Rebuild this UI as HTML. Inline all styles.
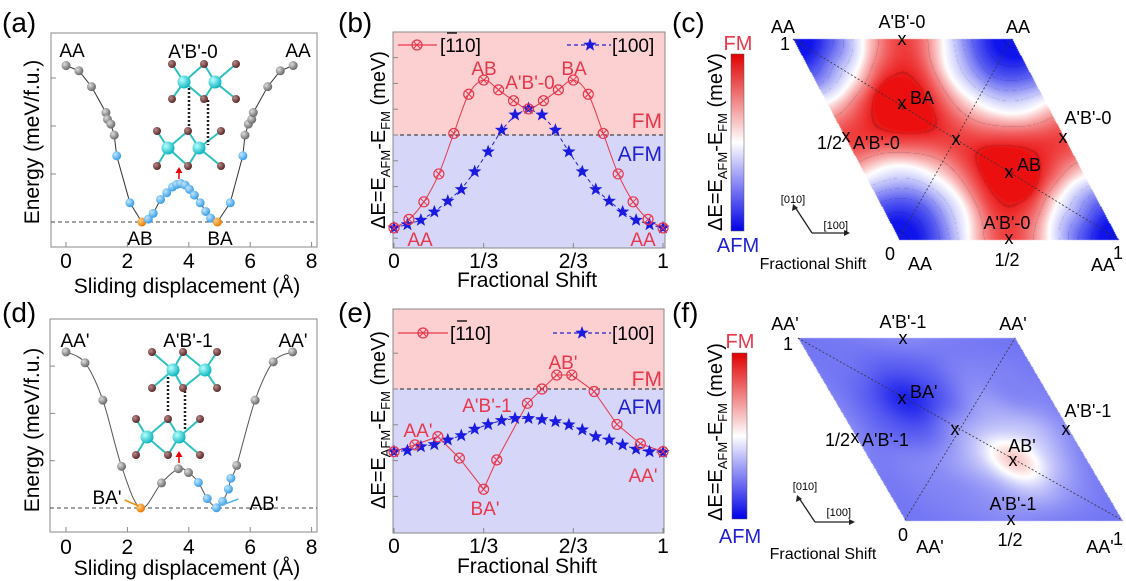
<!DOCTYPE html>
<html><head><meta charset="utf-8">
<style>
html,body{margin:0;padding:0;background:#fff;}
#wrap{position:relative;width:1126px;height:581px;overflow:hidden;}
canvas{position:absolute;left:0;top:0;}
svg{position:absolute;left:0;top:0;}
text{font-family:"Liberation Sans",sans-serif;}
</style></head>
<body>
<div id="wrap">
<canvas id="hm" width="1126" height="581"></canvas>
<svg id="fig" width="1126" height="581" viewBox="0 0 1126 581" xmlns="http://www.w3.org/2000/svg">
<defs>
<radialGradient id="gGray" cx="35%" cy="35%" r="65%"><stop offset="0" stop-color="#ddd"/><stop offset="1" stop-color="#6a6a6a"/></radialGradient>
<radialGradient id="gBlue" cx="35%" cy="35%" r="65%"><stop offset="0" stop-color="#bfe6ff"/><stop offset="1" stop-color="#3a9ee6"/></radialGradient>
<radialGradient id="gOr" cx="35%" cy="35%" r="65%"><stop offset="0" stop-color="#ffd08a"/><stop offset="1" stop-color="#e87a00"/></radialGradient>
<radialGradient id="gTeal" cx="35%" cy="35%" r="65%"><stop offset="0" stop-color="#b8ffff"/><stop offset="1" stop-color="#10b8c0"/></radialGradient>
<radialGradient id="gBr" cx="35%" cy="35%" r="65%"><stop offset="0" stop-color="#b88a8a"/><stop offset="1" stop-color="#5a2a2a"/></radialGradient>
<linearGradient id="cbar" x1="0" y1="0" x2="0" y2="1"><stop offset="0" stop-color="#e00000"/><stop offset="0.5" stop-color="#ffffff"/><stop offset="1" stop-color="#0000e8"/></linearGradient>
</defs>

<!-- panel labels -->
<text x="2" y="32" font-size="28">(a)</text>
<text x="338" y="32" font-size="28">(b)</text>
<text x="672" y="32" font-size="28">(c)</text>
<text x="2" y="322" font-size="28">(d)</text>
<text x="338" y="322" font-size="28">(e)</text>
<text x="672" y="322" font-size="28">(f)</text>

<!-- panel a frame -->
<g>
<rect x="51" y="33" width="266" height="214" fill="none" stroke="#888" stroke-width="1"/>
<line x1="51" y1="222" x2="317" y2="222" stroke="#444" stroke-dasharray="4,3"/>
<text transform="translate(39,142) rotate(-90)" text-anchor="middle" font-size="21">Energy (meV/f.u.)</text>
<text x="187" y="293" text-anchor="middle" font-size="21">Sliding displacement (Å)</text>
<text x="72" y="57" text-anchor="middle" font-size="19">AA</text>
<text x="298" y="57" text-anchor="middle" font-size="19">AA</text>
<text x="193" y="58" text-anchor="middle" font-size="19">A'B'-0</text>
<text x="140" y="245" text-anchor="middle" font-size="19">AB</text>
<text x="220" y="245" text-anchor="middle" font-size="19">BA</text>
</g>
<g id="insetA">
<g stroke="#2cc0c0" stroke-width="2">
<line x1="184" y1="82" x2="172" y2="64"/><line x1="184" y1="82" x2="204" y2="64"/><line x1="184" y1="82" x2="172" y2="99"/><line x1="184" y1="82" x2="204" y2="99"/>
<line x1="215" y1="82" x2="204" y2="64"/><line x1="215" y1="82" x2="236" y2="64"/><line x1="215" y1="82" x2="204" y2="99"/><line x1="215" y1="82" x2="236" y2="99"/>
<line x1="168" y1="148" x2="157" y2="131"/><line x1="168" y1="148" x2="188" y2="131"/><line x1="168" y1="148" x2="157" y2="166"/><line x1="168" y1="148" x2="188" y2="166"/>
<line x1="199" y1="148" x2="188" y2="131"/><line x1="199" y1="148" x2="221" y2="131"/><line x1="199" y1="148" x2="188" y2="166"/><line x1="199" y1="148" x2="221" y2="166"/>
</g>
<line x1="189" y1="88" x2="189" y2="128" stroke="#222" stroke-width="2.5" stroke-dasharray="2,2"/>
<line x1="208" y1="100" x2="208" y2="145" stroke="#222" stroke-width="2.5" stroke-dasharray="2,2"/>
<g fill="url(#gBr)"><circle cx="172" cy="64" r="4"/><circle cx="204" cy="64" r="4"/><circle cx="236" cy="64" r="4"/><circle cx="172" cy="99" r="4"/><circle cx="204" cy="99" r="4"/><circle cx="236" cy="99" r="4"/>
<circle cx="157" cy="131" r="4"/><circle cx="188" cy="131" r="4"/><circle cx="221" cy="131" r="4"/><circle cx="157" cy="166" r="4"/><circle cx="188" cy="166" r="4"/><circle cx="221" cy="166" r="4"/></g>
<g fill="url(#gTeal)"><circle cx="184" cy="82" r="6.5"/><circle cx="215" cy="82" r="6.5"/><circle cx="168" cy="148" r="6.5"/><circle cx="199" cy="148" r="6.5"/></g>
<line x1="179" y1="179" x2="179" y2="172" stroke="#e00" stroke-width="1.5"/><polygon points="175.5,173 182.5,173 179,167" fill="#e00"/>
</g>

<!-- panel d frame -->
<g>
<rect x="50" y="319" width="267" height="213" fill="none" stroke="#888" stroke-width="1"/>
<line x1="50" y1="508" x2="317" y2="508" stroke="#444" stroke-dasharray="4,3"/>
<text transform="translate(39,430) rotate(-90)" text-anchor="middle" font-size="21">Energy (meV/f.u.)</text>
<text x="187" y="575" text-anchor="middle" font-size="21">Sliding displacement (Å)</text>
<text x="75" y="347" text-anchor="middle" font-size="19">AA'</text>
<text x="293" y="347" text-anchor="middle" font-size="19">AA'</text>
<text x="188" y="347" text-anchor="middle" font-size="19">A'B'-1</text>
<text x="107" y="504" text-anchor="middle" font-size="19">BA'</text>
<text x="264" y="510" text-anchor="middle" font-size="19">AB'</text>
</g>
<g id="insetD">
<g stroke="#2cc0c0" stroke-width="2">
<line x1="173" y1="370" x2="152" y2="352"/><line x1="173" y1="370" x2="183" y2="352"/><line x1="173" y1="370" x2="152" y2="388"/><line x1="173" y1="370" x2="183" y2="388"/>
<line x1="205" y1="370" x2="183" y2="352"/><line x1="205" y1="370" x2="217" y2="352"/><line x1="205" y1="370" x2="183" y2="388"/><line x1="205" y1="370" x2="217" y2="388"/>
<line x1="147" y1="437" x2="136" y2="419"/><line x1="147" y1="437" x2="168" y2="419"/><line x1="147" y1="437" x2="136" y2="455"/><line x1="147" y1="437" x2="168" y2="455"/>
<line x1="179" y1="437" x2="168" y2="419"/><line x1="179" y1="437" x2="200" y2="419"/><line x1="179" y1="437" x2="168" y2="455"/><line x1="179" y1="437" x2="200" y2="455"/>
</g>
<line x1="168" y1="377" x2="168" y2="413" stroke="#222" stroke-width="2.5" stroke-dasharray="2,2"/>
<line x1="185" y1="391" x2="185" y2="430" stroke="#222" stroke-width="2.5" stroke-dasharray="2,2"/>
<g fill="url(#gBr)"><circle cx="152" cy="352" r="4"/><circle cx="183" cy="352" r="4"/><circle cx="217" cy="352" r="4"/><circle cx="152" cy="388" r="4"/><circle cx="183" cy="388" r="4"/><circle cx="217" cy="388" r="4"/>
<circle cx="136" cy="419" r="4"/><circle cx="168" cy="419" r="4"/><circle cx="200" cy="419" r="4"/><circle cx="136" cy="455" r="4"/><circle cx="168" cy="455" r="4"/><circle cx="200" cy="455" r="4"/></g>
<g fill="url(#gTeal)"><circle cx="173" cy="370" r="6.5"/><circle cx="205" cy="370" r="6.5"/><circle cx="147" cy="437" r="6.5"/><circle cx="179" cy="437" r="6.5"/></g>
<line x1="179" y1="463" x2="179" y2="456" stroke="#e00" stroke-width="1.5"/><polygon points="175.5,457 182.5,457 179,451" fill="#e00"/>
</g>

<!-- panel b -->
<g>
<rect x="393" y="32" width="272" height="103" fill="#fccfd1"/>
<rect x="393" y="135" width="272" height="113" fill="#d6d6f8"/>
<rect x="393" y="32" width="272" height="216" fill="none" stroke="#888"/>
<line x1="393" y1="135" x2="665" y2="135" stroke="#222" stroke-dasharray="4,3"/>
<text transform="translate(385,140) rotate(-90)" text-anchor="middle" font-size="20">ΔE=E<tspan dy="5" font-size="13">AFM</tspan><tspan dy="-5">-E</tspan><tspan dy="5" font-size="13">FM</tspan><tspan dy="-5"> (meV)</tspan></text>
<text x="527" y="287" text-anchor="middle" font-size="21">Fractional Shift</text>
<text x="662" y="128" text-anchor="end" font-size="21" fill="#e8374a">FM</text>
<text x="662" y="161" text-anchor="end" font-size="21" fill="#2020d0">AFM</text>
<text x="484" y="75" text-anchor="middle" font-size="19" fill="#e8374a">AB</text>
<text x="530" y="89" text-anchor="middle" font-size="19" fill="#e8374a">A'B'-0</text>
<text x="574" y="75" text-anchor="middle" font-size="19" fill="#e8374a">BA</text>
<text x="420" y="246" text-anchor="middle" font-size="19" fill="#e8374a">AA</text>
<text x="643" y="246" text-anchor="middle" font-size="19" fill="#e8374a">AA</text>
<g>
<line x1="398" y1="45" x2="437" y2="45" stroke="#e8374a" stroke-width="1.2"/>
<text x="440" y="52" font-size="19">[110]</text>
<line x1="447" y1="33" x2="457" y2="33" stroke="#000" stroke-width="1.3"/>
<line x1="567" y1="45" x2="611" y2="45" stroke="#2020d0" stroke-width="1.2" stroke-dasharray="4,3"/>
<text x="612" y="52" font-size="19">[100]</text>
</g>
</g>

<!-- panel e -->
<g>
<rect x="393" y="309" width="271" height="80" fill="#fccfd1"/>
<rect x="393" y="389" width="271" height="144" fill="#d6d6f8"/>
<rect x="393" y="309" width="271" height="224" fill="none" stroke="#888"/>
<line x1="393" y1="389" x2="664" y2="389" stroke="#222" stroke-dasharray="4,3"/>
<text transform="translate(385,420) rotate(-90)" text-anchor="middle" font-size="20">ΔE=E<tspan dy="5" font-size="13">AFM</tspan><tspan dy="-5">-E</tspan><tspan dy="5" font-size="13">FM</tspan><tspan dy="-5"> (meV)</tspan></text>
<text x="527" y="573" text-anchor="middle" font-size="21">Fractional Shift</text>
<text x="662" y="386" text-anchor="end" font-size="21" fill="#e8374a">FM</text>
<text x="662" y="414" text-anchor="end" font-size="21" fill="#2020d0">AFM</text>
<text x="418" y="437" text-anchor="middle" font-size="19" fill="#e8374a">AA'</text>
<text x="485" y="515" text-anchor="middle" font-size="19" fill="#e8374a">BA'</text>
<text x="487" y="412" text-anchor="middle" font-size="19" fill="#e8374a">A'B'-1</text>
<text x="563" y="369" text-anchor="middle" font-size="19" fill="#e8374a">AB'</text>
<text x="643" y="482" text-anchor="middle" font-size="19" fill="#e8374a">AA'</text>
<g>
<line x1="398" y1="333" x2="448" y2="333" stroke="#e8374a" stroke-width="1.2"/>
<text x="450" y="340" font-size="19">[110]</text>
<line x1="457" y1="321" x2="467" y2="321" stroke="#000" stroke-width="1.3"/>
<line x1="553" y1="333" x2="611" y2="333" stroke="#2020d0" stroke-width="1.2" stroke-dasharray="4,3"/>
<text x="612" y="340" font-size="19">[100]</text>
</g>
</g>

<!-- panel c -->
<g>
<rect x="731" y="54" width="13" height="177" fill="url(#cbar)" stroke="#555" stroke-width="0.5"/>
<text x="738" y="50" text-anchor="middle" font-size="20" fill="#e8374a">FM</text>
<text x="738" y="252" text-anchor="middle" font-size="20" fill="#2020d0">AFM</text>
<text transform="translate(722,142) rotate(-90)" text-anchor="middle" font-size="20">ΔE=E<tspan dy="5" font-size="13">AFM</tspan><tspan dy="-5">-E</tspan><tspan dy="5" font-size="13">FM</tspan><tspan dy="-5"> (meV)</tspan></text>
<line x1="793" y1="39" x2="1118" y2="239" stroke="#333" stroke-width="0.8" stroke-dasharray="2,2"/>
<line x1="899" y1="239" x2="1012" y2="39" stroke="#333" stroke-width="0.8" stroke-dasharray="2,2"/>
<g font-size="18">
<text x="783" y="33" text-anchor="middle">AA</text><text x="785" y="50" text-anchor="middle">1</text>
<text x="902" y="28" text-anchor="middle">A'B'-0</text><text x="902" y="45" text-anchor="middle">x</text>
<text x="1018" y="33" text-anchor="middle">AA</text>
<text x="902" y="109" text-anchor="middle">x</text><text x="910" y="104">BA</text>
<text x="842" y="149" text-anchor="end">1/2</text><text x="846" y="142" text-anchor="middle">x</text><text x="853" y="149">A'B'-0</text>
<text x="956" y="145" text-anchor="middle">x</text>
<text x="1088" y="124" text-anchor="middle">A'B'-0</text><text x="1063" y="143" text-anchor="middle">x</text>
<text x="1009" y="178" text-anchor="middle">x</text><text x="1017" y="171">AB</text>
<text x="1007" y="229" text-anchor="middle">A'B'-0</text><text x="1009" y="244" text-anchor="middle">x</text>
<text x="1007" y="266" text-anchor="middle">1/2</text>
<text x="890" y="260" text-anchor="middle">0</text><text x="920" y="270" text-anchor="middle">AA</text>
<text x="1103" y="271" text-anchor="middle">AA</text><text x="1118" y="259" text-anchor="middle">1</text>
</g>
<text x="813" y="269" text-anchor="middle" font-size="16">Fractional Shift</text>
<g>
<line x1="812" y1="233" x2="795" y2="207" stroke="#222" stroke-width="1.3"/><polygon points="793,204 792,211 798,208" fill="#222"/>
<line x1="812" y1="233" x2="846" y2="233" stroke="#222" stroke-width="1.3"/><polygon points="850,233 844,230 844,236" fill="#222"/>
<text x="793" y="203" text-anchor="middle" font-size="11">[010]</text>
<text x="848" y="229" text-anchor="end" font-size="11">[100]</text>
</g>
</g>

<!-- panel f -->
<g>
<rect x="732" y="353" width="15" height="166" fill="url(#cbar)" stroke="#555" stroke-width="0.5"/>
<text x="740" y="348" text-anchor="middle" font-size="20" fill="#e8374a">FM</text>
<text x="740" y="543" text-anchor="middle" font-size="20" fill="#2020d0">AFM</text>
<text transform="translate(722,432) rotate(-90)" text-anchor="middle" font-size="20">ΔE=E<tspan dy="5" font-size="13">AFM</tspan><tspan dy="-5">-E</tspan><tspan dy="5" font-size="13">FM</tspan><tspan dy="-5"> (meV)</tspan></text>
<line x1="798" y1="338" x2="1122" y2="520" stroke="#333" stroke-width="0.8" stroke-dasharray="2,2"/>
<line x1="905" y1="520" x2="1015" y2="338" stroke="#333" stroke-width="0.8" stroke-dasharray="2,2"/>
<g font-size="18">
<text x="785" y="330" text-anchor="middle">AA'</text><text x="788" y="350" text-anchor="middle">1</text>
<text x="903" y="328" text-anchor="middle">A'B'-1</text><text x="903" y="344" text-anchor="middle">x</text>
<text x="1013" y="330" text-anchor="middle">AA'</text>
<text x="902" y="404" text-anchor="middle">x</text><text x="910" y="398">BA'</text>
<text x="850" y="446" text-anchor="end">1/2</text><text x="855" y="443" text-anchor="middle">x</text><text x="862" y="446">A'B'-1</text>
<text x="955" y="435" text-anchor="middle">x</text>
<text x="1088" y="417" text-anchor="middle">A'B'-1</text><text x="1066" y="435" text-anchor="middle">x</text>
<text x="1022" y="452" text-anchor="middle">AB'</text><text x="1013" y="466" text-anchor="middle">x</text>
<text x="1013" y="510" text-anchor="middle">A'B'-1</text><text x="1011" y="525" text-anchor="middle">x</text>
<text x="1010" y="546" text-anchor="middle">1/2</text>
<text x="903" y="541" text-anchor="middle">0</text><text x="930" y="553" text-anchor="middle">AA'</text>
<text x="1100" y="553" text-anchor="middle">AA'</text><text x="1118" y="545" text-anchor="middle">1</text>
</g>
<text x="823" y="559" text-anchor="middle" font-size="16">Fractional Shift</text>
<g>
<line x1="815" y1="522" x2="799" y2="498" stroke="#222" stroke-width="1.3"/><polygon points="797,495 796,502 802,499" fill="#222"/>
<line x1="815" y1="522" x2="851" y2="522" stroke="#222" stroke-width="1.3"/><polygon points="855,522 849,519 849,525" fill="#222"/>
<text x="805" y="490" text-anchor="middle" font-size="11">[010]</text>
<text x="851" y="516" text-anchor="end" font-size="11">[100]</text>
</g>
</g>
<g id="marks"></g>
</svg>
</div>
<script>
// ---------- data: panel (a) ----------
var aDisp = [0,0.42,0.83,1.3,1.35,1.46,1.57,1.65,2.08,2.47, 2.68,2.84,3.08,3.28,3.47,3.6,3.74,3.88,4.02,4.18,4.37,4.55,4.71, 4.93,5.35,5.76,5.83,5.94,6.05,6.1,6.57,6.98,7.4];
var aEnergy = [32.6,31.5,28.2,22.8,21.4,20.4,18.1,13.8,4.0,0, 0.6,1.8,4.7,6.1,7.3,7.8,8.0,7.7,6.8,5.6,4.0,2.2,0.8, 0,4.0,13.8,18.1,20.4,21.4,22.8,28.2,31.5,32.6];
var aKind = ['g','g','g','g','g','g','g','b','b','o', 'b','b','b','b','b','b','b','b','b','b','b','b','b', 'o','b','b','g','g','g','g','g','g','g'];
// ---------- data: panel (d) ----------
var dDisp = [0,0.62,1.2,1.81,2.43,3.11,3.66,3.99,4.31,4.6,4.9,5.1,5.29,5.37,5.56,6.16,6.75,7.38];
var dEnergy = [33,30.7,22.8,8.8,0,5.3,8.3,7.5,5.4,2.0,0.05,1.4,4.0,6.3,9.0,22.8,30.9,33];
var dKind = ['g','g','g','g','o','g','g','g','b','b','b','b','b','b','g','g','g','g'];
// ---------- data: panel (b) ----------
var bRedShift = [0,1/18,2/18,3/18,4/18,5/18,6/18,7/18,8/18,9/18,10/18,11/18,12/18,13/18,14/18,15/18,16/18,17/18,1];
var bRedDE = [-3.6,-3.27,-2.59,-1.51,0.06,1.58,2.13,1.75,1.33,1.01,1.33,1.75,2.13,1.58,0.06,-1.51,-2.59,-3.27,-3.6];
var bBlueShift = [0,0.05,0.1,0.15,0.2,0.25,0.3,0.35,0.4,0.45,0.5,0.55,0.6,0.65,0.7,0.75,0.8,0.85,0.9,0.95,1];
var bBlueDE = [-3.6,-3.47,-3.3,-2.98,-2.56,-2.11,-1.42,-0.65,0.19,0.78,1.03,0.78,0.19,-0.65,-1.42,-2.11,-2.56,-2.98,-3.3,-3.47,-3.6];
// ---------- data: panel (e) ----------
var eRedShift = [0,0.078,0.163,0.243,0.333,0.382,0.496,0.55,0.605,0.661,0.744,0.829,0.916,1];
var eRedDE = [-1.75,-1.56,-1.33,-1.93,-2.8,-1.98,-0.4,0,0.39,0.39,-0.07,-0.99,-1.53,-1.75];
var eBlueShift = [0,0.05,0.1,0.15,0.2,0.25,0.3,0.35,0.4,0.45,0.5,0.55,0.6,0.65,0.7,0.75,0.8,0.85,0.9,0.95,1];
var eBlueDE = [-1.75,-1.72,-1.61,-1.55,-1.42,-1.3,-1.12,-0.99,-0.88,-0.82,-0.82,-0.85,-0.91,-1.0,-1.14,-1.33,-1.42,-1.56,-1.68,-1.75,-1.77];
// ---------- tick labels ----------
var dispTicks = [0,2,4,6,8];
var fracTickVals = [0,1/3,2/3,1];
var fracTickLabels = ['0','1/3','2/3','1'];
var bYTicks = [-4,-3,-2,-1,0,1,2,3];
var eYTicks = [-3,-2,-1,0,1];
var energyYTicks = [10,20,30];
// ---------- heatmap grids (u = i/6 along [100], v = j/6 along [010]) ----------
var cGrid = [
 [-3.6,-2.3,0.2,1.2,0.2,-2.3,-3.6],
 [-2.3,-2.3,-0.4,1.2,1.2,-0.4,-2.3],
 [0.2,-0.4,0.2,1.2,2.1,1.2,0.2],
 [1.2,1.2,1.2,1.2,1.2,1.2,1.2],
 [0.2,1.2,2.1,1.2,0.2,-0.4,0.2],
 [-2.3,-0.4,1.2,1.2,-0.4,-2.3,-2.3],
 [-3.6,-2.3,0.2,1.2,0.2,-2.3,-3.6]];
var fGrid = [
 [-1.75,-1.7,-1.6,-1.5,-1.6,-1.7,-1.75],
 [-1.7,-1.6,-1.5,-1.2,-0.7,-1.3,-1.7],
 [-1.6,-1.6,-1.4,-0.7,0.7,-0.7,-1.5],
 [-1.5,-2.0,-2.1,-1.2,-0.7,-0.8,-1.5],
 [-1.6,-2.1,-2.8,-2.1,-1.3,-1.5,-1.6],
 [-1.7,-1.8,-2.1,-2.0,-1.6,-1.6,-1.7],
 [-1.75,-1.7,-1.6,-1.5,-1.6,-1.7,-1.75]];

var NS='http://www.w3.org/2000/svg';
var marks=document.getElementById('marks');
function mk(tag,attrs,parent){var el=document.createElementNS(NS,tag);for(var k in attrs)el.setAttribute(k,attrs[k]);(parent||marks).appendChild(el);return el;}
function xA(d){return 66+d*30.7;} function yA(e){return 222-e*4.8;}
function yD(e){return 508-e*4.73;}
function xB(f){return 394+f*269;} function yB(v){return 135-v*25.8;}
function xE(f){return 394+f*269;} function yE(v){return 389-v*35.8;}
function smooth(pts){var s='M'+pts[0][0]+','+pts[0][1];for(var i=0;i<pts.length-1;i++){var p0=pts[Math.max(i-1,0)],p1=pts[i],p2=pts[i+1],p3=pts[Math.min(i+2,pts.length-1)];
 s+=' C'+(p1[0]+(p2[0]-p0[0])/6)+','+(p1[1]+(p2[1]-p0[1])/6)+' '+(p2[0]-(p3[0]-p1[0])/6)+','+(p2[1]-(p3[1]-p1[1])/6)+' '+p2[0]+','+p2[1];}return s;}
function starPts(cx,cy,R){var r=R*0.42,s=[];for(var k=0;k<10;k++){var a=-Math.PI/2+k*Math.PI/5,rr=k%2?r:R;s.push((cx+rr*Math.cos(a)).toFixed(1)+','+(cy+rr*Math.sin(a)).toFixed(1));}return s.join(' ');}
var fillOf={g:'url(#gGray)',b:'url(#gBlue)',o:'url(#gOr)'};

dispTicks.forEach(function(t){
 var l=mk('line',{x1:xA(t),y1:247,x2:xA(t),y2:242,stroke:'#888'});
 
 
 var tx=mk('text',{x:xA(t),y:268,'text-anchor':'middle','font-size':21});tx.textContent=t;
 
 
 var l2=mk('line',{x1:xA(t),y1:532,x2:xA(t),y2:527,stroke:'#888'});
 
 
 var tx2=mk('text',{x:xA(t),y:554,'text-anchor':'middle','font-size':21});tx2.textContent=t;
 
 
});
energyYTicks.forEach(function(t){
 var l=mk('line',{x1:51,y1:yA(t),x2:56,y2:yA(t),stroke:'#888'});
 
 
 var l2=mk('line',{x1:50,y1:yD(t),x2:55,y2:yD(t),stroke:'#888'});
 
 
});
var pa=[];for(var i=0;i<aDisp.length;i++)pa.push(xA(aDisp[i]).toFixed(1)+','+yA(aEnergy[i]).toFixed(1));
var lineA=mk('polyline',{points:pa.join(' '),fill:'none',stroke:'#333','stroke-width':1});


for(var i=0;i<aDisp.length;i++){
 var c=mk('circle',{cx:xA(aDisp[i]),cy:yA(aEnergy[i]),r:4.5,fill:fillOf[aKind[i]]});
 
 
}
var pd=[];for(var i=0;i<dDisp.length;i++)pd.push([xA(dDisp[i]),yD(dEnergy[i])]);
var lineD=mk('path',{d:smooth(pd),fill:'none',stroke:'#555','stroke-width':1});


for(var i=0;i<dDisp.length;i++){
 var c=mk('circle',{cx:xA(dDisp[i]),cy:yD(dEnergy[i]),r:4.5,fill:fillOf[dKind[i]]});
 
 
}
var arrL=mk('path',{d:'M'+(xA(2.43)-2)+','+(yD(0)-2)+' L'+(xA(2.43)-16)+','+(yD(0)-8),stroke:'#f08a10','stroke-width':1.5,fill:'none'});


var arrR=mk('path',{d:'M'+(xA(4.9)+3)+','+(yD(0)-2)+' L'+(xA(4.9)+22)+','+(yD(0)-9),stroke:'#5ab4ee','stroke-width':1.5,fill:'none'});



function fracAxis(yBot,label){
 fracTickVals.forEach(function(t,k){
  var l=mk('line',{x1:xB(t),y1:yBot,x2:xB(t),y2:yBot-5,stroke:'#888'});
  
  
  var tx=mk('text',{x:xB(t),y:yBot+20,'text-anchor':'middle','font-size':21});tx.textContent=fracTickLabels[k];
  
  
 });
}
fracAxis(248,'b');fracAxis(533,'e');
bYTicks.forEach(function(t){
 var l=mk('line',{x1:393,y1:yB(t),x2:398,y2:yB(t),stroke:'#888'});
 
 
});
eYTicks.forEach(function(t){
 var l=mk('line',{x1:393,y1:yE(t),x2:398,y2:yE(t),stroke:'#888'});
 
 
});
function redMarker(x,y,name){
 var g=mk('g',{});
 
 
 mk('circle',{cx:x,cy:y,r:5,fill:'none',stroke:'#e8374a','stroke-width':1.2},g);
 mk('path',{d:'M'+(x-3.5)+','+(y-3.5)+'L'+(x+3.5)+','+(y+3.5)+'M'+(x-3.5)+','+(y+3.5)+'L'+(x+3.5)+','+(y-3.5),stroke:'#e8374a','stroke-width':1},g);
}
function series(xs,ys,xf,yf){var pr=[];for(var i=0;i<xs.length;i++)pr.push([xf(xs[i]),yf(ys[i])]);return pr;}
var pbB=series(bBlueShift,bBlueDE,xB,yB);
var blB=mk('polyline',{points:pbB.map(function(p){return p.join(',');}).join(' '),fill:'none',stroke:'#2020d0','stroke-width':1,'stroke-dasharray':'4,3'});


var prB=series(bRedShift,bRedDE,xB,yB);
var rlB=mk('path',{d:smooth(prB),fill:'none',stroke:'#e8374a','stroke-width':1});


pbB.forEach(function(p){
 var s=mk('polygon',{points:starPts(p[0],p[1],7),fill:'#1a1ae0'});
 
 
});
prB.forEach(function(p){redMarker(p[0],p[1],'series-110-point-b');});
redMarker(417,45,'legend-marker-110-b');
var ls=mk('polygon',{points:starPts(590,45,7),fill:'#1a1ae0'});


var pbE=series(eBlueShift,eBlueDE,xE,yE);
var blE=mk('polyline',{points:pbE.map(function(p){return p.join(',');}).join(' '),fill:'none',stroke:'#2020d0','stroke-width':1,'stroke-dasharray':'4,3'});


var prE=series(eRedShift,eRedDE,xE,yE);
var rlE=mk('polyline',{points:prE.map(function(p){return p.join(',');}).join(' '),fill:'none',stroke:'#e8374a','stroke-width':1});


pbE.forEach(function(p){
 var s=mk('polygon',{points:starPts(p[0],p[1],7),fill:'#1a1ae0'});
 
 
});
prE.forEach(function(p){redMarker(p[0],p[1],'series-110-point-e');});
redMarker(423,333,'legend-marker-110-e');
var ls2=mk('polygon',{points:starPts(582,333,7),fill:'#1a1ae0'});



// ---------- heatmaps ----------
var ctx=document.getElementById('hm').getContext('2d');
function cr(p0,p1,p2,p3,t){return 0.5*((2*p1)+(-p0+p2)*t+(2*p0-5*p1+4*p2-p3)*t*t+(-p0+3*p1-3*p2+p3)*t*t*t);}
function sample(g,x,y){
 var ix=Math.floor(x),iy=Math.floor(y),fx=x-ix,fy=y-iy,rows=[];
 function G(i,j){i=((i%6)+6)%6;j=((j%6)+6)%6;return g[j][i];}
 for(var m=-1;m<=2;m++){rows.push(cr(G(ix-1,iy+m),G(ix,iy+m),G(ix+1,iy+m),G(ix+2,iy+m),fx));}
 return cr(rows[0],rows[1],rows[2],rows[3],fy);
}
function color(v,negS,posS){
 var t;if(v<0){t=Math.min(1,-v/negS);return [255-240*t,255-235*t,255-20*t];}
 t=Math.min(1,v/posS);return [255-20*t,255-240*t,255-240*t];
}
function drawHeat(g,O,a,b,negS,posS,contours){
 var img=ctx.getImageData(0,0,1126,581),d=img.data;
 var minx=Math.floor(O[0]+b[0]),maxx=Math.ceil(O[0]+a[0]),miny=Math.floor(O[1]+b[1]),maxy=Math.ceil(O[1]);
 for(var y=miny;y<=maxy;y++)for(var x=minx;x<=maxx;x++){
  var v=(y-O[1])/b[1];var u=(x-O[0]-v*b[0])/a[0];
  if(u<0||u>1||v<0||v>1)continue;
  var val=sample(g,u*6,v*6),c=color(val,negS,posS);
  if(contours){var lvl=Math.abs(((val/0.7)%1+1)%1-0.5);
   if(lvl>0.475&&Math.abs(val)>0.3){c=[c[0]*0.85,c[1]*0.85,c[2]*0.9];}}
  var k=(y*1126+x)*4;d[k]=c[0];d[k+1]=c[1];d[k+2]=c[2];d[k+3]=255;
 }
 ctx.putImageData(img,0,0);
}
drawHeat(cGrid,[899,239],[219,0],[-106,-200],3.2,1.5,true);
drawHeat(fGrid,[905,520],[217,0],[-107,-182],3.0,3.0,false);
</script>
</body></html>
